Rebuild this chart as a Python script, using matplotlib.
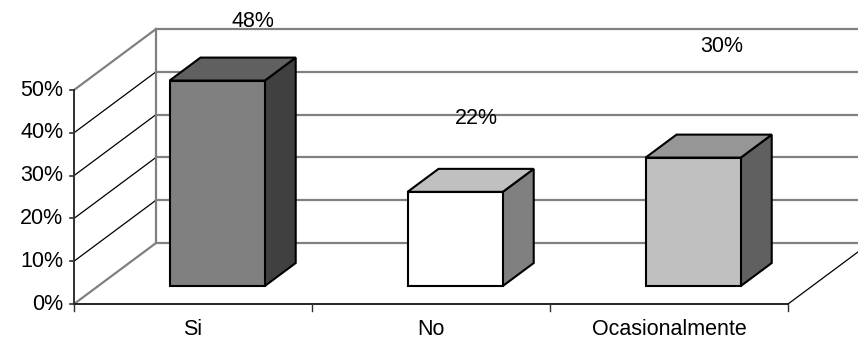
import matplotlib.pyplot as plt
import matplotlib.patches as patches

categories = ['Si', 'No', 'Ocasionalmente']
values = [48, 22, 30]
value_labels = ['48%', '22%', '30%']
# where Excel left the data labels (category position, value)
label_pos = [(0.75, 66.0), (1.69, 43.4), (2.72, 60.2)]
y_ticks = [0, 10, 20, 30, 40, 50]

front_colors = ['#808080', '#ffffff', '#c0c0c0']
top_colors = ['#606060', '#c0c0c0', '#969696']
side_colors = ['#404040', '#808080', '#606060']

# oblique projection of the depth axis
DX = 0.3445   # category units for full depth
DY = 14.25    # percent units for full depth
BAR_D0, BAR_D1 = 0.295, 0.672
BAR_W = 0.4
FS = 15.5


def proj(x, y, d):
    return (x + d * DX, y + d * DY)


plt.rcParams['font.family'] = ['Liberation Sans', 'DejaVu Sans']
fig = plt.figure(figsize=(8.58, 3.43), dpi=100)
ax = fig.add_axes([0, 0, 1, 1])
ax.set_xlim(-0.3109, 3.294)
ax.set_ylim(-9.11, 71.03)
ax.axis('off')

n = len(categories)
ymax = y_ticks[-1]

# back wall gridlines
for v in y_ticks:
    x0, y0 = proj(0, v, 1)
    x1, y1 = proj(n + 1, v, 1)
    ax.plot([x0, x1], [y0, y1], color='#808080', lw=1.6, zorder=1)
    # left wall diagonals
    xa, ya = proj(0, v, 0)
    edge = v in (0, ymax)
    ax.plot([xa, x0], [ya, y0], color='#808080' if edge else 'black',
            lw=1.6 if edge else 0.9, zorder=1)

# back wall left edge
bx, by0 = proj(0, 0, 1)
_, by1 = proj(0, ymax, 1)
ax.plot([bx, bx], [by0, by1], color='#808080', lw=1.6, zorder=1)

# floor: front edge and right edge
ax.plot([0, n], [0, 0], color='black', lw=1.2, zorder=2)
rx, ry = proj(n, 0, 1)
ax.plot([n, rx], [0, ry], color='black', lw=0.9, zorder=2)

# front y axis with ticks
ax.plot([0, 0], [0, ymax], color='#303030', lw=1.4, zorder=2)
for v in y_ticks:
    ax.plot([-0.017, 0], [v, v], color='#303030', lw=1.2, zorder=2)
    ax.text(-0.045, v, f'{v}%', ha='right', va='center', fontsize=FS)

# category ticks on the floor
for i in range(n + 1):
    ax.plot([i, i], [0, -1.6], color='#303030', lw=1.0, zorder=2)
for i, name in enumerate(categories):
    ax.text(i + 0.5, -3.6, name, ha='center', va='top', fontsize=FS)

# 3D bars
for i, v in enumerate(values):
    xl = i + 0.5 - BAR_W / 2
    xr = i + 0.5 + BAR_W / 2
    front = [proj(xl, 0, BAR_D0), proj(xr, 0, BAR_D0),
             proj(xr, v, BAR_D0), proj(xl, v, BAR_D0)]
    top = [proj(xl, v, BAR_D0), proj(xr, v, BAR_D0),
           proj(xr, v, BAR_D1), proj(xl, v, BAR_D1)]
    side = [proj(xr, 0, BAR_D0), proj(xr, 0, BAR_D1),
            proj(xr, v, BAR_D1), proj(xr, v, BAR_D0)]
    for pts, c in ((side, side_colors[i]), (top, top_colors[i]),
                   (front, front_colors[i])):
        ax.add_patch(patches.Polygon(pts, closed=True, facecolor=c,
                                     edgecolor='black', lw=1.5,
                                     joinstyle='miter', zorder=3))

# data labels
for (lx, ly), txt in zip(label_pos, value_labels):
    ax.text(lx, ly, txt, ha='center', va='center', fontsize=FS, zorder=4)

fig.savefig('out.png', dpi=100)
